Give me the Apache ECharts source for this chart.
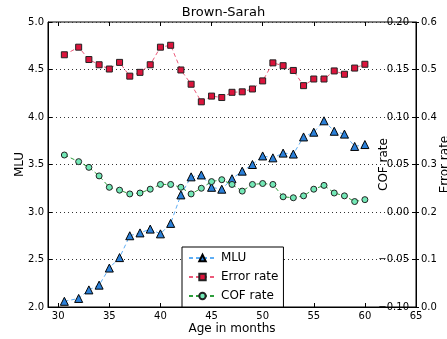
<!DOCTYPE html>
<html>
<head>
<meta charset="utf-8">
<script src="https://cdn.jsdelivr.net/npm/echarts@6/dist/echarts.min.js"></script>
<style>
html,body{margin:0;padding:0;background:#fff;}
#chart{width:447px;height:339px;}
</style>
</head>
<body>
<div id="chart"></div>
<script>
const ages = [30.6, 32, 33, 34, 35, 36, 37, 38, 39, 40, 41, 42, 43, 44, 45, 46, 47, 48, 49, 50, 51, 52, 53, 54, 55, 56, 57, 58, 59, 60];
const mlu = [2.06, 2.09, 2.18, 2.23, 2.41, 2.52, 2.75, 2.78, 2.82, 2.77, 2.88, 3.18, 3.37, 3.39, 3.26, 3.24, 3.35, 3.43, 3.50, 3.59, 3.57, 3.62, 3.61, 3.79, 3.84, 3.96, 3.85, 3.82, 3.69, 3.71];
const errorRate = [0.531, 0.547, 0.521, 0.510, 0.501, 0.515, 0.486, 0.494, 0.510, 0.547, 0.551, 0.499, 0.469, 0.432, 0.444, 0.441, 0.452, 0.453, 0.459, 0.476, 0.514, 0.508, 0.498, 0.466, 0.480, 0.480, 0.497, 0.490, 0.503, 0.511];
const cofRate = [0.060, 0.053, 0.047, 0.038, 0.026, 0.023, 0.019, 0.020, 0.024, 0.029, 0.029, 0.026, 0.019, 0.025, 0.032, 0.034, 0.029, 0.022, 0.029, 0.030, 0.029, 0.016, 0.015, 0.017, 0.024, 0.028, 0.020, 0.017, 0.011, 0.013];
const xTicks = [30, 35, 40, 45, 50, 55, 60, 65];
const seriesNames = ['MLU', 'Error rate', 'COF rate'];

const FONT = 'DejaVu Sans';
const pair = (vals) => ages.map((a, i) => [a, vals[i]]);
const minus = (s) => s.replace('-', '\u2212');

const chart = echarts.init(document.getElementById('chart'), null, {renderer: 'canvas'});
const option = {
  animation: false,
  backgroundColor: '#fff',
  textStyle: {fontFamily: FONT},
  title: {
    text: 'Brown-Sarah', left: 'center', top: 6, padding: 0,
    textStyle: {fontFamily: FONT, fontSize: 13, fontWeight: 'normal', color: '#000'}
  },
  grid: {left: 48, right: 31, top: 22, bottom: 32, show: true, borderColor: '#000', borderWidth: 1, containLabel: false, outerBoundsMode: 'none'},
  legend: {
    orient: 'vertical', left: 182, top: 247,
    padding: [5, 5, 5, 6], itemGap: 7, itemWidth: 27, itemHeight: 8,
    backgroundColor: '#fff', borderColor: '#000', borderWidth: 1, borderRadius: 0,
    textStyle: {fontFamily: FONT, fontSize: 12, color: '#000'},
    data: seriesNames
  },
  xAxis: [{
    type: 'value', min: 29, max: 65, position: 'bottom',
    name: 'Age in months', nameLocation: 'middle', nameGap: 16, nameMoveOverlap: false,
    nameTextStyle: {fontFamily: FONT, fontSize: 12, color: '#000'},
    axisLine: {show: true, onZero: false, lineStyle: {color: '#000'}},
    axisTick: {show: true, inside: true, length: 4, customValues: xTicks, lineStyle: {color: '#000'}},
    axisLabel: {show: true, customValues: xTicks, margin: 4, fontFamily: FONT, fontSize: 10, color: '#000'},
    splitLine: {show: false}
  }, {
    type: 'value', min: 29, max: 65, position: 'top',
    axisLine: {show: false, onZero: false},
    axisTick: {show: true, inside: true, length: 4, customValues: xTicks, lineStyle: {color: '#000'}},
    axisLabel: {show: false},
    splitLine: {show: false}
  }],
  yAxis: [{
    type: 'value', min: 2, max: 5, interval: 0.5, position: 'left',
    name: 'MLU', nameLocation: 'middle', nameGap: 22, nameMoveOverlap: false,
    nameTextStyle: {fontFamily: FONT, fontSize: 12, color: '#000'},
    axisLine: {show: true, onZero: false, lineStyle: {color: '#000'}},
    axisTick: {show: true, inside: true, length: 4, lineStyle: {color: '#000'}},
    axisLabel: {margin: 4, fontFamily: FONT, fontSize: 10, color: '#000', formatter: v => v.toFixed(1)},
    splitLine: {show: true, lineStyle: {color: '#333', type: [1, 3], width: 1}}
  }, {
    type: 'value', min: -0.1, max: 0.2, interval: 0.05, position: 'right', offset: 0,
    name: 'COF rate', nameLocation: 'middle', nameGap: -38, nameMoveOverlap: false,
    nameTextStyle: {fontFamily: FONT, fontSize: 12, color: '#000'},
    axisLine: {show: true, onZero: false, lineStyle: {color: '#000'}},
    axisTick: {show: true, inside: true, length: 4, lineStyle: {color: '#000'}},
    axisLabel: {inside: true, margin: 7, fontFamily: FONT, fontSize: 10, color: '#000', formatter: v => minus(v.toFixed(2))},
    splitLine: {show: false}
  }, {
    type: 'value', min: 0, max: 0.6, interval: 0.1, position: 'right', offset: 0,
    name: 'Error rate', nameLocation: 'middle', nameGap: 23, nameMoveOverlap: false,
    nameTextStyle: {fontFamily: FONT, fontSize: 12, color: '#000'},
    axisLine: {show: false, onZero: false},
    axisTick: {show: true, inside: false, length: 3, lineStyle: {color: '#000'}},
    axisLabel: {margin: 5, fontFamily: FONT, fontSize: 10, color: '#000', formatter: v => v.toFixed(1)},
    splitLine: {show: false}
  }],
  series: [{
    name: seriesNames[0], type: 'line', xAxisIndex: 0, yAxisIndex: 0,
    data: pair(mlu), symbol: 'triangle', symbolSize: 8,
    itemStyle: {color: '#2b80d9', borderColor: '#000', borderWidth: 1},
    lineStyle: {color: '#5eaef5', width: 1, type: [4, 3]},
    z: 3
  }, {
    name: seriesNames[1], type: 'line', xAxisIndex: 0, yAxisIndex: 2,
    data: pair(errorRate), symbol: 'rect', symbolSize: 6,
    itemStyle: {color: '#dc143c', borderColor: '#222', borderWidth: 1},
    lineStyle: {color: '#ec5a7a', width: 1, type: [4, 3]},
    z: 2
  }, {
    name: seriesNames[2], type: 'line', xAxisIndex: 0, yAxisIndex: 1,
    data: pair(cofRate), symbol: 'circle', symbolSize: 6,
    itemStyle: {color: '#72e8b6', borderColor: '#222', borderWidth: 1},
    lineStyle: {color: '#2e9e3c', width: 1, type: [4, 3]},
    z: 4
  }]
};
chart.setOption(option);
</script>
</body>
</html>
